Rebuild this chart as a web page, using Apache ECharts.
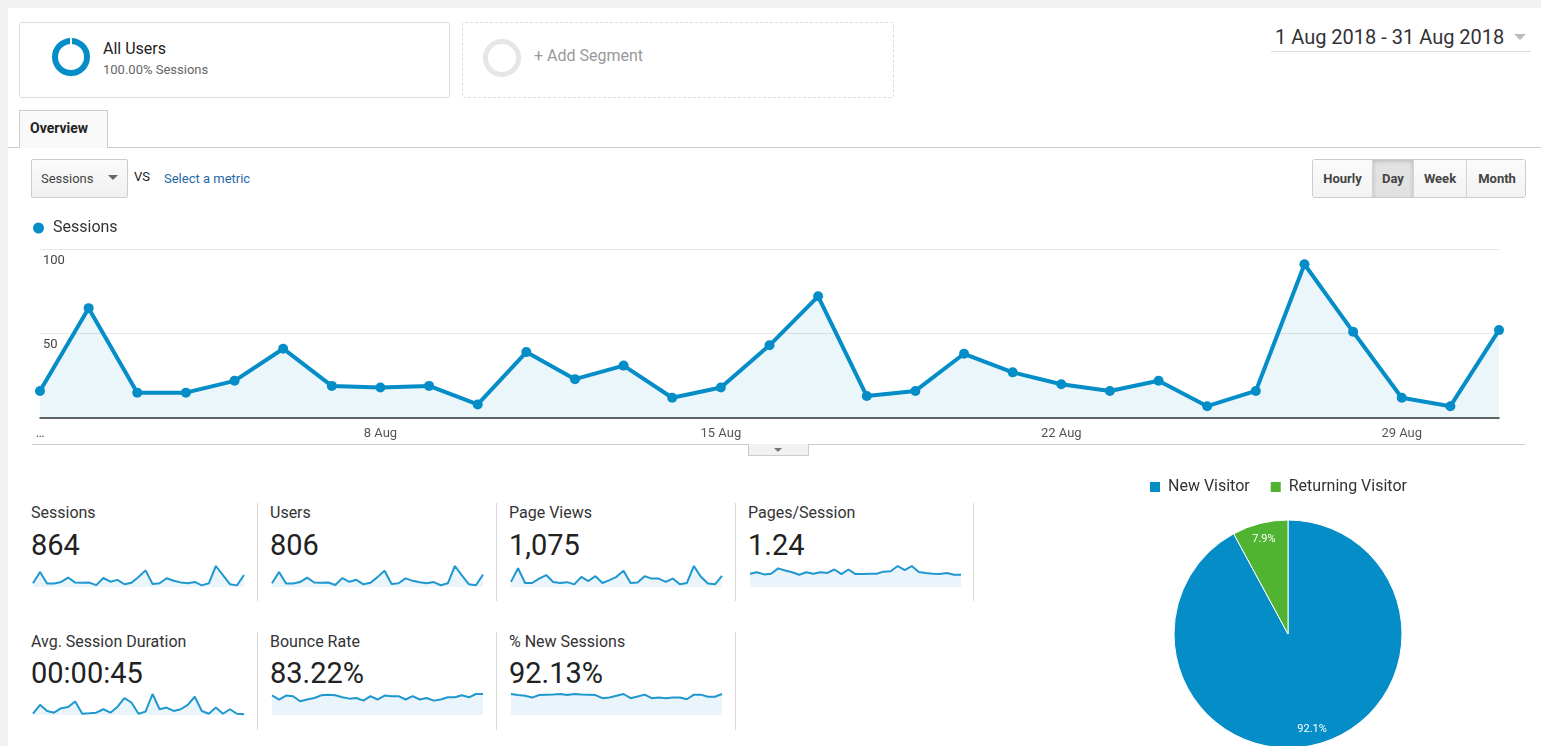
<!DOCTYPE html>
<html><head><meta charset="utf-8">
<script src="https://cdn.jsdelivr.net/npm/echarts@6/dist/echarts.min.js"></script>
<style>
html,body{margin:0;padding:0;width:1541px;height:746px;overflow:hidden;background:#f1f1f1;font-family:Roboto,"Noto Sans",Arial,sans-serif;}
.a{position:absolute;box-sizing:border-box;}
#panel{left:8px;top:8px;width:1533px;height:738px;background:#fff;}
#chart{position:absolute;left:0;top:0;width:1541px;height:746px;z-index:5;}
.t{white-space:nowrap;line-height:1;}
.btn{position:absolute;top:0;height:38px;line-height:37px;text-align:center;font-weight:bold;font-size:13px;color:#444;border-right:1px solid #d4d4d4;box-sizing:border-box;background:linear-gradient(#fbfbfb,#f2f2f2);}
.lbl{font-size:16px;color:#333;}
.val{font-size:29px;color:#222;}
.div{width:1px;background:#d9d9d9;}
</style></head><body>
<div class="a" id="panel"></div>

<!-- segment boxes -->
<div class="a" style="left:19px;top:22px;width:431px;height:76px;border:1px solid #ddd;border-radius:3px;background:#fff;"></div>
<div class="a" style="left:52px;top:38px;width:38px;height:38px;border:6px solid #058DC7;border-radius:50%;"></div>
<div class="a" style="left:70px;top:37px;width:2px;height:7px;background:#fff;"></div>
<div class="a t" style="left:103px;top:41px;font-size:16px;color:#222;">All Users</div>
<div class="a t" style="left:103px;top:63px;font-size:13px;color:#666;">100.00% Sessions</div>

<div class="a" style="left:462px;top:22px;width:432px;height:76px;border:1px dashed #ddd;border-radius:3px;"></div>
<div class="a" style="left:483px;top:39px;width:38px;height:38px;border:5px solid #e6e6e6;border-radius:50%;"></div>
<div class="a t" style="left:534px;top:48px;font-size:16px;color:#999;">+ Add Segment</div>

<!-- date range -->
<div class="a t" style="left:1275px;top:27px;font-size:20px;color:#333;">1 Aug 2018 - 31 Aug 2018</div>
<div class="a" style="left:1271px;top:51px;width:260px;height:1px;background:#ddd;"></div>
<div class="a" style="left:1514px;top:34px;width:0;height:0;border-left:6px solid transparent;border-right:6px solid transparent;border-top:6px solid #bbb;"></div>

<!-- tab -->
<div class="a" style="left:8px;top:147px;width:1533px;height:1px;background:#ccc;"></div>
<div class="a" style="left:19px;top:110px;width:89px;height:38px;border:1px solid #ccc;border-bottom:none;background:#f9f9f9;"></div>
<div class="a t" style="left:30px;top:121px;font-size:14px;font-weight:bold;color:#222;">Overview</div>

<!-- metric selector -->
<div class="a" style="left:31px;top:159px;width:97px;height:39px;border:1px solid #ccc;border-radius:2px;background:linear-gradient(#fbfbfb,#f0f0f0);"></div>
<div class="a t" style="left:41px;top:172px;font-size:13px;color:#444;">Sessions</div>
<div class="a" style="left:108px;top:175px;width:0;height:0;border-left:5px solid transparent;border-right:5px solid transparent;border-top:5px solid #666;"></div>
<div class="a t" style="left:134px;top:170px;font-size:13px;color:#222;">VS</div>
<div class="a t" style="left:164px;top:172px;font-size:13px;color:#1f67a8;">Select a metric</div>

<!-- period buttons -->
<div class="a" style="left:1312px;top:159px;width:214px;height:39px;border:1px solid #ccc;border-radius:3px;overflow:hidden;">
  <div class="btn" style="left:0;width:60px;">Hourly</div>
  <div class="btn" style="left:60px;width:41px;background:#e2e2e2;box-shadow:inset 0 1px 4px rgba(0,0,0,0.2);">Day</div>
  <div class="btn" style="left:101px;width:53px;">Week</div>
  <div class="btn" style="left:154px;width:60px;border-right:none;">Month</div>
</div>

<!-- chart bottom rule -->
<div class="a" style="left:32px;top:444px;width:1493px;height:1px;background:#ccc;"></div>
<div class="a" style="left:748px;top:444px;width:61px;height:12px;border:1px solid #ccc;border-top:none;background:#f1f1f1;"></div>
<div class="a" style="left:774px;top:448px;width:0;height:0;border-left:4px solid transparent;border-right:4px solid transparent;border-top:4px solid #777;"></div>

<div id="tiles"></div>
<div id="chart"></div>

<script>
// ---------------- data ----------------
const days = ['1 Aug','2 Aug','3 Aug','4 Aug','5 Aug','6 Aug','7 Aug','8 Aug','9 Aug','10 Aug','11 Aug','12 Aug','13 Aug','14 Aug','15 Aug','16 Aug','17 Aug','18 Aug','19 Aug','20 Aug','21 Aug','22 Aug','23 Aug','24 Aug','25 Aug','26 Aug','27 Aug','28 Aug','29 Aug','30 Aug','31 Aug'];
const sessions = [16,65,15,15,22,41,19,18,19,8,39,23,31,12,18,43,72,13,16,38,27,20,16,22,7,16,91,51,12,7,52];
const users = [15,61,14,14,20,38,18,17,18,8,36,21,29,11,17,40,66,12,15,35,25,19,15,20,7,15,85,47,11,7,50];
const pageViews = [23,85,18,18,38,54,23,18,22,12,46,27,49,18,31,46,74,18,20,49,38,38,23,38,12,18,95,46,16,12,50];
const pagesPerSession = [1.11,1.23,1.05,1.11,1.55,1.37,1.23,1.02,1.23,1.11,1.23,1.17,1.46,1.08,1.46,1.08,1.08,1.11,1.11,1.28,1.31,1.75,1.40,1.75,1.25,1.17,1.11,1.08,1.17,1.02,1.02];
const avgDurationSec = [6,48,19,11,32,38,64,6,8,11,27,11,38,80,59,6,16,99,27,35,19,27,48,86,19,6,35,6,27,6,3];
const bounceRate = [89,70,88,85,62,70,77,89,92,89,80,74,77,65,85,70,88,85,85,70,85,70,77,65,70,80,80,89,80,95,95];
const newSessionsPct = [100,95,92,83,95,97,98,100,95,100,98,97,95,80,83,92,100,80,88,97,80,83,80,83,83,75,97,97,87,87,100];

const metricNames = ['Sessions','Users','Page Views','Pages/Session','Avg. Session Duration','Bounce Rate','% New Sessions'];
const metricTotals = ['864','806','1,075','1.24','00:00:45','83.22%','92.13%'];
const metricSeries = [sessions, users, pageViews, pagesPerSession, avgDurationSec, bounceRate, newSessionsPct];

const visitorTypes = ['New Visitor','Returning Visitor'];
const visitorShares = [92.1, 7.9];

// ---------------- layout constants ----------------
const BLUE = '#058DC7', GREEN = '#50B432';
const colX = [31, 270, 509, 748];
const rowLabelTop = [505, 634];
const rowValTop = [531, 659];
const sparkTop = [566, 694];
const dividerX = [257, 496, 735, 973];

// tiles (HTML text)
const tiles = document.getElementById('tiles');
let html = '';
metricNames.forEach((n, i) => {
  const r = i < 4 ? 0 : 1, c = i < 4 ? i : i - 4;
  html += `<div class="a t lbl" style="left:${colX[c]}px;top:${rowLabelTop[r]}px;">${n}</div>`;
  html += `<div class="a t val" style="left:${colX[c]}px;top:${rowValTop[r]}px;">${metricTotals[i]}</div>`;
});
dividerX.forEach((x, k) => {
  html += `<div class="a div" style="left:${x}px;top:503px;height:98px;"></div>`;
  if (k < 3) html += `<div class="a div" style="left:${x}px;top:632px;height:98px;"></div>`;
});
tiles.innerHTML = html;

// ---------------- chart ----------------
const chart = echarts.init(document.getElementById('chart'), null, {renderer: 'canvas'});
const grids = [{left: 40, right: 42, top: 249, height: 169}];
const xAxes = [{
  type: 'category', data: days, boundaryGap: false, gridIndex: 0,
  axisLine: {lineStyle: {color: '#333', width: 1.5}}, axisTick: {show: false},
  axisLabel: {
    interval: (i) => i % 7 === 0, margin: 9, color: '#555', fontSize: 13, fontFamily: 'Roboto',
    formatter: (v, i) => i === 0 ? '…' : v
  }
}];
const yAxes = [{
  type: 'value', min: 0, max: 100, interval: 50, gridIndex: 0,
  axisLine: {show: false}, axisTick: {show: false},
  splitLine: {lineStyle: {color: '#e6e6e6'}},
  axisLabel: {inside: true, margin: 3, verticalAlign: 'top', padding: [5, 0, 0, 0], color: '#444', fontSize: 13, fontFamily: 'Roboto',
    formatter: (v) => v === 0 ? '' : v}
}];
const series = [{
  name: 'Sessions', type: 'line', data: sessions, xAxisIndex: 0, yAxisIndex: 0,
  symbol: 'circle', symbolSize: 10, showAllSymbol: true,
  lineStyle: {color: BLUE, width: 4}, itemStyle: {color: BLUE},
  areaStyle: {color: 'rgba(5,141,199,0.11)'}, z: 3
}];

metricSeries.forEach((d, i) => {
  const r = i < 4 ? 0 : 1, c = i < 4 ? i : i - 4;
  grids.push({left: colX[c] + 2, top: sparkTop[r], width: 211, height: 21});
  const gi = grids.length - 1;
  xAxes.push({type: 'category', data: days, boundaryGap: false, gridIndex: gi, show: false});
  yAxes.push({type: 'value', min: 0, max: (v) => v.max, gridIndex: gi, show: false});
  series.push({
    name: 'spark-' + metricNames[i], type: 'line', data: d, xAxisIndex: gi, yAxisIndex: gi,
    symbol: 'none', silent: true,
    lineStyle: {color: '#1f97cf', width: 2}, areaStyle: {color: 'rgba(5,141,199,0.12)'}
  });
});

const pieData = visitorTypes.map((n, i) => ({name: n, value: visitorShares[i], itemStyle: {color: i === 0 ? BLUE : GREEN}}));
series.push({
  name: 'Visitors', type: 'pie', center: [1288, 634], radius: [0, 114], startAngle: 90, clockwise: true,
  data: pieData, label: {show: false}, labelLine: {show: false},
  itemStyle: {borderColor: '#fff', borderWidth: 1}, emphasis: {disabled: true}
});
series.push({
  name: 'VisitorLabels', type: 'pie', center: [1288, 634], radius: [76, 114], startAngle: 90, clockwise: true,
  silent: true, data: visitorTypes.map((n, i) => ({name: n, value: visitorShares[i]})),
  itemStyle: {color: 'rgba(0,0,0,0)'},
  label: {show: true, position: 'inside', color: '#fff', fontSize: 11, fontFamily: 'Roboto', formatter: (p) => p.value.toFixed(1) + '%'},
  labelLine: {show: false}, emphasis: {disabled: true}, legendHoverLink: false
});

chart.setOption({
  animation: false,
  backgroundColor: 'transparent',
  textStyle: {fontFamily: 'Roboto'},
  legend: [
    {data: ['Sessions'], left: 33, top: 220, padding: 0, icon: 'circle', itemWidth: 11, itemHeight: 11, itemGap: 10,
      textStyle: {fontSize: 16, color: '#333', fontFamily: 'Roboto', padding: [0, 0, 0, 4]}, selectedMode: false},
    {data: visitorTypes, left: 1148, top: 479, padding: 0, icon: 'rect', itemWidth: 12, itemHeight: 12, itemGap: 19,
      textStyle: {fontSize: 16, color: '#333', fontFamily: 'Roboto', padding: [0, 0, 0, 2]}, selectedMode: false}
  ],
  grid: grids, xAxis: xAxes, yAxis: yAxes, series: series
});
</script>
</body></html>
